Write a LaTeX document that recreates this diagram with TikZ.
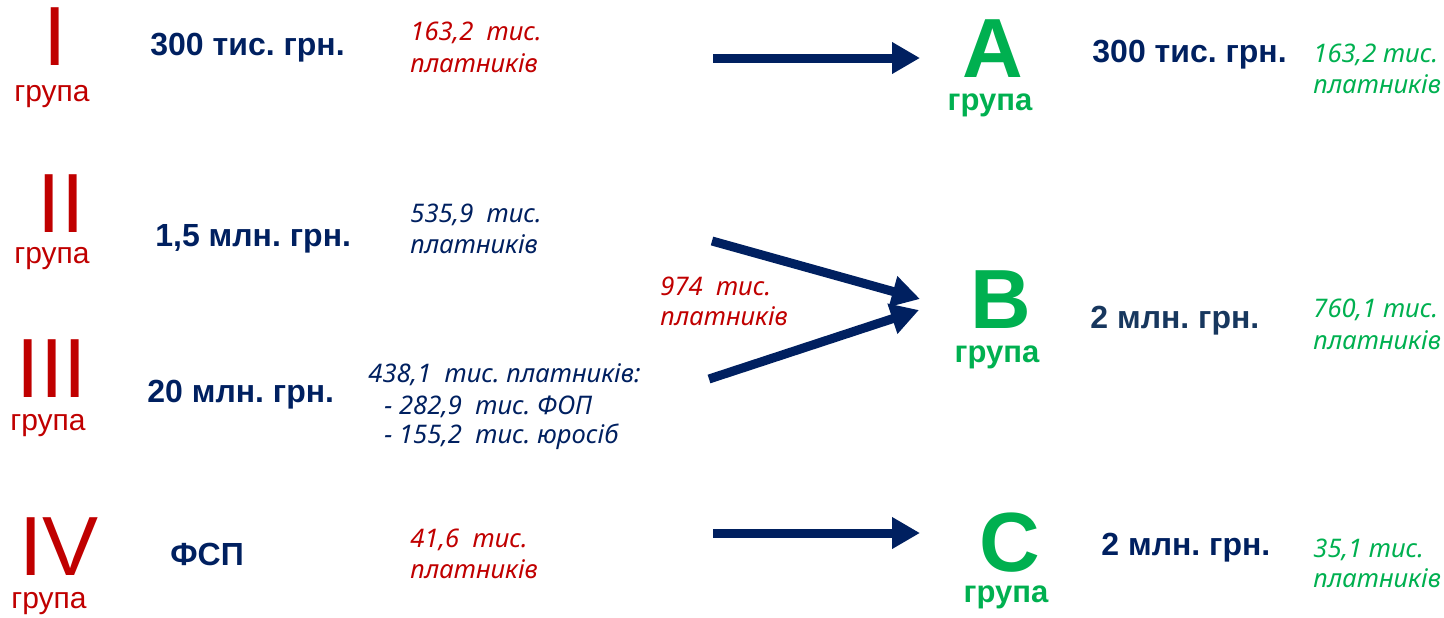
\documentclass[tikz,border=0pt]{standalone}
\usepackage{fontspec}
\setmainfont{Liberation Sans}
\newfontfamily\cntfont{Noto Sans}
\usepackage{xcolor}
\usepackage{tikz}
\usetikzlibrary{arrows.meta}

\definecolor{grpred}{HTML}{C00000}
\definecolor{grpnavy}{HTML}{002060}
\definecolor{grpdark}{HTML}{17375E}
\definecolor{grpgreen}{HTML}{00B050}

\begin{document}
\frenchspacing
\begin{tikzpicture}[x=0.5pt,y=-0.5pt,
    roman/.style={grpred,inner sep=0,anchor=base,font=\fontsize{42}{48}\selectfont},
    redgrp/.style={grpred,inner sep=0,anchor=base,font=\fontsize{15}{18}\selectfont},
    limit/.style={grpnavy,inner sep=0,anchor=base west,font=\fontsize{16}{19}\selectfont\bfseries},
    count/.style={inner sep=0,anchor=base west,font=\cntfont\fontsize{12.8}{15}\selectfont\itshape},
    newgrp/.style={grpgreen,inner sep=0,anchor=base,font=\fontsize{42}{48}\selectfont\bfseries},
    greengrp/.style={grpgreen,inner sep=0,anchor=base,font=\fontsize{15.5}{18}\selectfont\bfseries}]
\useasboundingbox (0,0) rectangle (1444,617);

    \node[roman] (numI) at (55,65) {I};
    \node[redgrp] (grpI) at (52,101) {група};
    \node[roman] (numII) at (61,232) {II};
    \node[redgrp] (grpII) at (52,263) {група};
    \node[roman] (numIII) at (52,397) {III};
    \node[redgrp] (grpIII) at (48,430) {група};
    \node[roman] (numIV) at (59,575) {IV};
    \node[redgrp] (grpIV) at (49,608) {група};

    \node[limit] (limI) at (150,55) {300 тис. грн.};
    \node[limit] (limII) at (155,246) {1,5 млн. грн.};
    \node[limit] (limIII) at (147,402) {20 млн. грн.};
    \node[limit] (limIV) at (170,565) {ФСП};

    \node[count,grpred] (cntIa) at (410,40) {163,2~~тис.};
    \node[count,grpred] (cntIb) at (410,72) {платників};
    \node[count,grpnavy] (cntIIa) at (410,222) {535,9~~тис.};
    \node[count,grpnavy] (cntIIb) at (410,253) {платників};
    \node[count,grpnavy] (cntIIIa) at (368,382) {438,1~~тис. платників:};
    \node[count,grpnavy] (cntIIIb) at (384,414) {- 282,9~~тис. ФОП};
    \node[count,grpnavy] (cntIIIc) at (384,443) {- 155,2~~тис. юросіб};
    \node[count,grpred] (cntIVa) at (410,547) {41,6~~тис.};
    \node[count,grpred] (cntIVb) at (410,578) {платників};
    \node[count,grpred] (cntBa) at (660,295) {974~~тис.};
    \node[count,grpred] (cntBb) at (660,325) {платників};

    \node[newgrp] (letA) at (993,77) {A};
    \node[greengrp] (grpA) at (990,110) {група};
    \node[newgrp] (letB) at (1001,328) {B};
    \node[greengrp] (grpB) at (997,362) {група};
    \node[newgrp] (letC) at (1010,571) {C};
    \node[greengrp] (grpC) at (1006,602) {група};

    \node[limit] (limA) at (1092,62) {300 тис. грн.};
    \node[limit,grpdark] (limB) at (1090,328) {2 млн. грн.};
    \node[limit] (limC) at (1101,555) {2 млн. грн.};

    \node[count,grpgreen] (cntAa) at (1313,62) {163,2 тис.};
    \node[count,grpgreen] (cntAb) at (1313,93) {платників};
    \node[count,grpgreen] (cntBBa) at (1313,317) {760,1 тис.};
    \node[count,grpgreen] (cntBBb) at (1313,349) {платників};
    \node[count,grpgreen] (cntCa) at (1313,557) {35,1 тис.};
    \node[count,grpgreen] (cntCb) at (1313,587) {платників};

    \coordinate (fromI) at (713,58);
    \coordinate (toA) at (920,58);
    \coordinate (fromII) at (712,241);
    \coordinate (toBup) at (920,299);
    \coordinate (fromIII) at (709,379);
    \coordinate (toBlow) at (919,310);
    \coordinate (fromIV) at (713,533);
    \coordinate (toC) at (920,533);

\begin{scope}[>={Triangle[length=14pt,width=15pt]},line width=4.5pt,grpnavy]
    \draw[->] (fromI) -- (toA);
    \draw[->] (fromII) -- (toBup);
    \draw[->] (fromIII) -- (toBlow);
    \draw[->] (fromIV) -- (toC);
\end{scope}
\end{tikzpicture}
\end{document}
